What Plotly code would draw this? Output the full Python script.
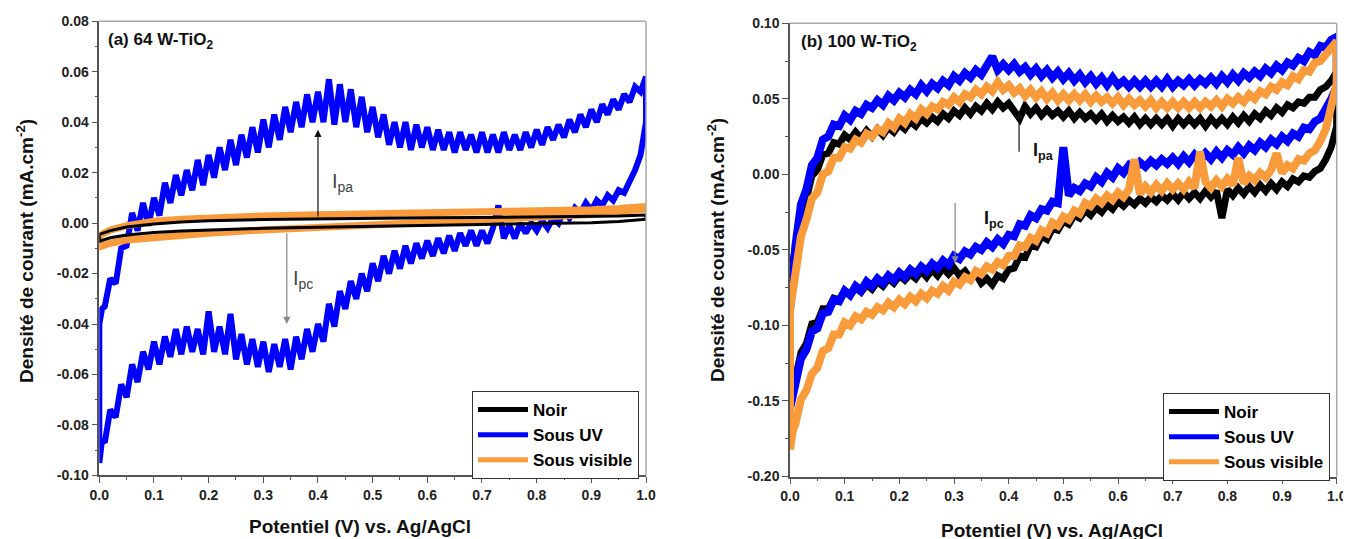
import plotly.graph_objects as go

# ---------------- sampling grids (potential, V vs Ag/AgCl) ----------------
potential = [0.0, 0.005] + [round(0.01 * i, 2) for i in range(1, 101)]
potential_smooth = [0.0, 0.01, 0.02, 0.05, 0.1, 0.15, 0.2, 0.3, 0.4, 0.5,
                    0.6, 0.7, 0.8, 0.9, 0.95, 1.0]

# ---------------- panel (a) 64 W-TiO2 ----------------
a_uv_fwd = [-0.040, -0.034, -0.033, -0.022, -0.024, -0.010, -0.009, 0.004, -0.003, 0.008,
            -0.001, 0.010, 0.003, 0.016, 0.008, 0.019, 0.011, 0.021, 0.013, 0.025,
            0.015, 0.027, 0.018, 0.030, 0.021, 0.033, 0.023, 0.035, 0.026, 0.038,
            0.028, 0.041, 0.030, 0.043, 0.033, 0.046, 0.036, 0.048, 0.038, 0.051,
            0.040, 0.052, 0.040, 0.057, 0.039, 0.055, 0.040, 0.053, 0.038, 0.050,
            0.036, 0.046, 0.034, 0.043, 0.031, 0.040, 0.030, 0.040, 0.029, 0.039,
            0.030, 0.038, 0.029, 0.037, 0.029, 0.036, 0.028, 0.036, 0.029, 0.035,
            0.028, 0.036, 0.028, 0.035, 0.028, 0.036, 0.029, 0.035, 0.029, 0.036,
            0.030, 0.037, 0.031, 0.038, 0.033, 0.039, 0.034, 0.041, 0.036, 0.043,
            0.038, 0.045, 0.040, 0.047, 0.043, 0.049, 0.045, 0.051, 0.048, 0.054,
            0.052, 0.058]
a_uv_rev = [-0.095, -0.086, -0.087, -0.074, -0.077, -0.064, -0.069, -0.056, -0.063, -0.051,
            -0.058, -0.047, -0.056, -0.045, -0.053, -0.042, -0.052, -0.041, -0.051, -0.042,
            -0.052, -0.035, -0.051, -0.041, -0.052, -0.036, -0.054, -0.044, -0.056, -0.046,
            -0.057, -0.047, -0.059, -0.048, -0.057, -0.046, -0.058, -0.045, -0.054, -0.042,
            -0.051, -0.040, -0.047, -0.032, -0.041, -0.027, -0.034, -0.023, -0.030, -0.020,
            -0.027, -0.016, -0.023, -0.013, -0.020, -0.011, -0.018, -0.009, -0.016, -0.008,
            -0.014, -0.007, -0.013, -0.006, -0.012, -0.005, -0.011, -0.004, -0.009, -0.003,
            -0.009, -0.003, -0.008, -0.002, 0.007, -0.006, -0.001, -0.006, 0.000, -0.004,
            0.000, -0.003, 0.001, -0.002, 0.002, 0.000, 0.005, 0.002, 0.006, 0.004,
            0.008, 0.005, 0.009, 0.007, 0.011, 0.009, 0.013, 0.012, 0.017, 0.021,
            0.027, 0.040]
a_dark_fwd = [-0.0045, -0.0037, -0.0030, -0.0016, -0.0004, 0.0004, 0.0009, 0.0014,
              0.0017, 0.0019, 0.0021, 0.0022, 0.0024, 0.0026, 0.0028, 0.0032]
a_dark_rev = [-0.0072, -0.0064, -0.0058, -0.0047, -0.0037, -0.0031, -0.0027, -0.0021,
              -0.0017, -0.0012, -0.0008, -0.0005, -0.0002, 0.0001, 0.0006, 0.0015]
a_vis_fwd = [-0.0050, -0.0038, -0.0028, -0.0010, 0.0007, 0.0015, 0.0021, 0.0028,
             0.0033, 0.0036, 0.0039, 0.0043, 0.0047, 0.0053, 0.0058, 0.0066]
a_vis_rev = [-0.0095, -0.0086, -0.0080, -0.0067, -0.0056, -0.0048, -0.0040, -0.0027,
             -0.0015, -0.0005, 0.0005, 0.0014, 0.0023, 0.0034, 0.0043, 0.0056]

# ---------------- panel (b) 100 W-TiO2 ----------------
b_uv_fwd = [-0.090, -0.060, -0.047, -0.020, -0.010, 0.006, 0.011, 0.023, 0.025, 0.033,
            0.032, 0.039, 0.036, 0.042, 0.040, 0.046, 0.044, 0.049, 0.046, 0.052,
            0.049, 0.054, 0.051, 0.056, 0.053, 0.059, 0.055, 0.060, 0.057, 0.062,
            0.059, 0.065, 0.062, 0.067, 0.064, 0.069, 0.066, 0.072, 0.078, 0.069,
            0.073, 0.069, 0.073, 0.068, 0.071, 0.066, 0.070, 0.065, 0.069, 0.064,
            0.068, 0.063, 0.067, 0.062, 0.066, 0.061, 0.065, 0.060, 0.064, 0.059,
            0.064, 0.059, 0.062, 0.058, 0.062, 0.058, 0.062, 0.058, 0.062, 0.058,
            0.063, 0.058, 0.062, 0.059, 0.063, 0.059, 0.063, 0.060, 0.064, 0.060,
            0.065, 0.061, 0.066, 0.062, 0.067, 0.064, 0.068, 0.065, 0.070, 0.067,
            0.072, 0.069, 0.074, 0.072, 0.077, 0.075, 0.081, 0.079, 0.085, 0.084,
            0.089, 0.091]
b_uv_rev = [-0.155, -0.148, -0.139, -0.122, -0.116, -0.104, -0.102, -0.092, -0.091, -0.083,
            -0.084, -0.077, -0.080, -0.074, -0.077, -0.071, -0.074, -0.069, -0.072, -0.067,
            -0.070, -0.065, -0.068, -0.063, -0.066, -0.061, -0.064, -0.059, -0.062, -0.057,
            -0.060, -0.054, -0.056, -0.051, -0.053, -0.048, -0.050, -0.045, -0.048, -0.043,
            -0.046, -0.040, -0.041, -0.033, -0.034, -0.027, -0.029, -0.023, -0.024, -0.018,
            -0.019, 0.018, -0.014, -0.009, -0.011, -0.006, -0.008, -0.002, -0.005, 0.001,
            -0.002, 0.004, 0.001, 0.006, 0.003, 0.008, 0.005, 0.009, 0.006, 0.010,
            0.007, 0.011, 0.007, 0.012, 0.008, 0.013, 0.009, 0.014, 0.010, 0.015,
            0.011, 0.016, 0.013, 0.018, 0.014, 0.019, 0.016, 0.021, 0.018, 0.023,
            0.020, 0.025, 0.022, 0.027, 0.025, 0.031, 0.030, 0.035, 0.037, 0.043,
            0.050, 0.058]
b_vis_fwd = [-0.090, -0.076, -0.064, -0.041, -0.030, -0.016, -0.012, 0.000, 0.002, 0.011,
             0.011, 0.018, 0.017, 0.023, 0.021, 0.027, 0.025, 0.030, 0.028, 0.034,
             0.031, 0.037, 0.034, 0.040, 0.037, 0.043, 0.040, 0.045, 0.043, 0.048,
             0.046, 0.051, 0.048, 0.053, 0.051, 0.056, 0.053, 0.058, 0.055, 0.061,
             0.056, 0.059, 0.054, 0.057, 0.052, 0.056, 0.051, 0.055, 0.050, 0.054,
             0.049, 0.053, 0.049, 0.053, 0.049, 0.053, 0.048, 0.052, 0.048, 0.051,
             0.047, 0.051, 0.046, 0.050, 0.046, 0.049, 0.045, 0.049, 0.044, 0.048,
             0.044, 0.048, 0.044, 0.048, 0.044, 0.048, 0.044, 0.048, 0.045, 0.049,
             0.045, 0.050, 0.047, 0.051, 0.048, 0.053, 0.050, 0.055, 0.053, 0.058,
             0.056, 0.061, 0.059, 0.065, 0.063, 0.069, 0.068, 0.074, 0.075, 0.080,
             0.083, 0.088]
b_vis_rev = [-0.182, -0.170, -0.165, -0.149, -0.143, -0.132, -0.128, -0.117, -0.115, -0.106,
             -0.106, -0.098, -0.100, -0.094, -0.096, -0.091, -0.093, -0.088, -0.090, -0.085,
             -0.088, -0.083, -0.086, -0.081, -0.084, -0.079, -0.082, -0.077, -0.079, -0.074,
             -0.077, -0.071, -0.073, -0.068, -0.070, -0.064, -0.066, -0.061, -0.063, -0.058,
             -0.060, -0.054, -0.054, -0.047, -0.048, -0.042, -0.044, -0.037, -0.039, -0.032,
             -0.034, -0.028, -0.030, -0.024, -0.026, -0.019, -0.021, -0.016, -0.019, -0.014,
             -0.017, -0.012, -0.015, -0.010, 0.010, -0.013, -0.008, -0.012, -0.007, -0.011,
             -0.006, -0.010, -0.006, -0.010, -0.005, -0.009, 0.015, -0.005, -0.009, -0.004,
             -0.008, -0.003, -0.007, 0.011, -0.006, -0.001, -0.004, 0.001, -0.002, 0.003,
             0.014, 0.001, 0.006, 0.004, 0.010, 0.009, 0.014, 0.016, 0.022, 0.030,
             0.042, 0.060]
b_dark_fwd = [-0.070, -0.056, -0.048, -0.026, -0.016, -0.001, 0.003, 0.013, 0.014, 0.021,
              0.020, 0.026, 0.023, 0.028, 0.024, 0.029, 0.025, 0.030, 0.026, 0.031,
              0.028, 0.033, 0.030, 0.035, 0.032, 0.037, 0.034, 0.038, 0.035, 0.040,
              0.037, 0.042, 0.039, 0.044, 0.040, 0.045, 0.042, 0.047, 0.043, 0.048,
              0.044, 0.047, 0.042, 0.037, 0.045, 0.040, 0.044, 0.039, 0.043, 0.039,
              0.042, 0.038, 0.042, 0.037, 0.041, 0.037, 0.040, 0.036, 0.040, 0.035,
              0.039, 0.035, 0.038, 0.034, 0.038, 0.033, 0.037, 0.033, 0.037, 0.033,
              0.037, 0.032, 0.037, 0.033, 0.037, 0.033, 0.037, 0.032, 0.037, 0.033,
              0.037, 0.033, 0.038, 0.034, 0.039, 0.035, 0.040, 0.037, 0.042, 0.039,
              0.044, 0.041, 0.046, 0.044, 0.048, 0.047, 0.051, 0.051, 0.056, 0.058,
              0.062, 0.068]
b_dark_rev = [-0.152, -0.143, -0.135, -0.118, -0.112, -0.099, -0.098, -0.089, -0.089, -0.082,
              -0.083, -0.077, -0.080, -0.075, -0.078, -0.073, -0.076, -0.071, -0.074, -0.069,
              -0.072, -0.067, -0.070, -0.066, -0.069, -0.064, -0.068, -0.063, -0.067, -0.062,
              -0.066, -0.062, -0.067, -0.064, -0.069, -0.066, -0.072, -0.069, -0.073, -0.067,
              -0.069, -0.063, -0.062, -0.054, -0.055, -0.047, -0.048, -0.041, -0.043, -0.036,
              -0.037, -0.031, -0.033, -0.027, -0.029, -0.024, -0.027, -0.022, -0.025, -0.020,
              -0.023, -0.018, -0.021, -0.017, -0.020, -0.016, -0.019, -0.015, -0.018, -0.014,
              -0.017, -0.013, -0.017, -0.012, -0.016, -0.012, -0.016, -0.011, -0.015, -0.011,
              -0.029, -0.010, -0.014, -0.009, -0.013, -0.008, -0.012, -0.007, -0.011, -0.006,
              -0.010, -0.005, -0.008, -0.003, -0.005, -0.001, -0.002, 0.002, 0.004, 0.010,
              0.018, 0.032]

# ---------------- labels ----------------
series_names = ["Noir", "Sous UV", "Sous visible"]
x_ticks = [0.0, 0.1, 0.2, 0.3, 0.4, 0.5, 0.6, 0.7, 0.8, 0.9, 1.0]
x_ticktext = ["0.0", "0.1", "0.2", "0.3", "0.4", "0.5", "0.6", "0.7", "0.8", "0.9", "1.0"]
ya_ticks = [0.08, 0.06, 0.04, 0.02, 0.0, -0.02, -0.04, -0.06, -0.08, -0.10]
ya_ticktext = ["0.08", "0.06", "0.04", "0.02", "0.00", "-0.02", "-0.04", "-0.06", "-0.08", "-0.10"]
yb_ticks = [0.10, 0.05, 0.0, -0.05, -0.10, -0.15, -0.20]
yb_ticktext = ["0.10", "0.05", "0.00", "-0.05", "-0.10", "-0.15", "-0.20"]

BLACK = "#000000"
BLUE = "#0000FF"
ORANGE = "#F99A3B"
FONT = "Arial, 'Liberation Sans', sans-serif"

W, H, OFF = 1351, 539, 8   # page body margin offset of the plot div


def px_x(X):
    return (X - OFF) / W


def px_y(Y):
    return 1 - (Y - OFF) / H


fig = go.Figure()


def add_loop(xs, fwd, rev, color, width, xa, ya):
    x = list(xs) + list(xs)[::-1] + [xs[0]]
    y = list(fwd) + list(rev)[::-1] + [fwd[0]]
    fig.add_trace(go.Scatter(x=x, y=y, mode="lines",
                             line=dict(color=color, width=width),
                             showlegend=False, hoverinfo="skip",
                             xaxis=xa, yaxis=ya))


# panel (a): blue below, orange, black on top
add_loop(potential, a_uv_fwd, a_uv_rev, BLUE, 6, "x", "y")
add_loop(potential_smooth, a_vis_fwd, a_vis_rev, ORANGE, 7, "x", "y")
add_loop(potential_smooth, a_dark_fwd, a_dark_rev, BLACK, 3, "x", "y")

# panel (b)
add_loop(potential, b_dark_fwd, b_dark_rev, BLACK, 7, "x2", "y2")
add_loop(potential, b_uv_fwd, b_uv_rev, BLUE, 8, "x2", "y2")
add_loop(potential, b_vis_fwd, b_vis_rev, ORANGE, 8, "x2", "y2")

# legend entries
for lg, xa, ya in (("legend", "x", "y"), ("legend2", "x2", "y2")):
    for name, color in zip(series_names, (BLACK, BLUE, ORANGE)):
        fig.add_trace(go.Scatter(x=[None], y=[None], mode="lines", name=name,
                                 line=dict(color=color, width=5),
                                 legend=lg, xaxis=xa, yaxis=ya, showlegend=True))

tickfont = dict(family=FONT, size=14, color="#222", weight="bold")
common = dict(showline=True, linecolor="#555", linewidth=1.5, ticks="outside",
              ticklen=6, tickwidth=1.2, tickcolor="#555", showgrid=False,
              zeroline=False, automargin=False, tickfont=tickfont,
              tickmode="array", fixedrange=True)
legend_style = dict(xanchor="right", yanchor="top", bgcolor="white",
                    bordercolor="#333", borderwidth=1, itemwidth=50,
                    font=dict(family=FONT, size=17, color="#000", weight="bold"),
                    itemclick=False, itemdoubleclick=False)

fig.update_layout(
    width=W, height=H, template="none",
    margin=dict(l=0, r=0, t=0, b=0),
    paper_bgcolor="white", plot_bgcolor="white",
    font=dict(family=FONT, color="#222"),
    xaxis=dict(domain=[px_x(99.3), px_x(646)], range=[0, 1], anchor="y",
               tickvals=x_ticks, ticktext=x_ticktext,
               minor=dict(ticks="outside", ticklen=3, tickcolor="#555",
                          tickmode="linear", tick0=0, dtick=0.05), **common),
    yaxis=dict(domain=[px_y(475.4), px_y(21.2)], range=[-0.10, 0.08], anchor="x",
               tickvals=ya_ticks, ticktext=ya_ticktext,
               minor=dict(ticks="outside", ticklen=3, tickcolor="#555",
                          tickmode="linear", tick0=0, dtick=0.01), **common),
    xaxis2=dict(domain=[px_x(790), px_x(1336.7)], range=[0, 1], anchor="y2",
                tickvals=x_ticks, ticktext=x_ticktext,
                minor=dict(ticks="outside", ticklen=3, tickcolor="#555",
                           tickmode="linear", tick0=0, dtick=0.05), **common),
    yaxis2=dict(domain=[px_y(476.5), px_y(23.3)], range=[-0.20, 0.10], anchor="x2",
                tickvals=yb_ticks, ticktext=yb_ticktext,
                minor=dict(ticks="outside", ticklen=3, tickcolor="#555",
                           tickmode="linear", tick0=0, dtick=0.025), **common),
    legend=dict(x=px_x(639), y=px_y(391), **legend_style),
    legend2=dict(x=px_x(1330), y=px_y(393), **legend_style),
)

# grey frame (top and right edges)
for xa, ya in (("x", "y"), ("x2", "y2")):
    fig.add_shape(type="line", xref=f"{xa} domain", yref=f"{ya} domain",
                  x0=0, x1=1, y0=1, y1=1, line=dict(color="#A8A8A8", width=1.5))
    fig.add_shape(type="line", xref=f"{xa} domain", yref=f"{ya} domain",
                  x0=1, x1=1, y0=0, y1=1, line=dict(color="#A8A8A8", width=1.5))

bold = dict(family=FONT, color="#111", weight="bold")

# panel titles
fig.add_annotation(x=0.012, y=0.072, xref="x", yref="y", xanchor="left", yanchor="middle",
                   text="(a) 64 W-TiO<sub>2</sub>", showarrow=False, font=dict(size=17, **bold))
fig.add_annotation(x=0.017, y=0.0868, xref="x2", yref="y2", xanchor="left", yanchor="middle",
                   text="(b) 100 W-TiO<sub>2</sub>", showarrow=False, font=dict(size=17, **bold))

# axis titles
ytitle = "Densité de courant (mA.cm<sup>-2</sup>)"
xtitle = "Potentiel (V) vs. Ag/AgCl"
for X, Y, txt, ang in ((25, 251, ytitle, -90), (716, 250, ytitle, -90),
                       (360, 526, xtitle, 0), (1052, 530, xtitle, 0)):
    fig.add_annotation(x=px_x(X), y=px_y(Y), xref="paper", yref="paper", text=txt,
                       xanchor="center", yanchor="middle", textangle=ang,
                       showarrow=False, font=dict(size=19, **bold))

# peak current arrows
arrows = [
    ("x", "y", 0.400, 0.037, 0.002, "#111"),
    ("x", "y", 0.343, -0.040, -0.0035, "#888"),
    ("x2", "y2", 0.419, 0.0415, 0.014, "#111"),
    ("x2", "y2", 0.302, -0.059, -0.018, "#888"),
]
for xa, ya, xv, yhead, ytail, col in arrows:
    fig.add_annotation(x=xv, y=yhead, ax=xv, ay=ytail, xref=xa, yref=ya, axref=xa, ayref=ya,
                       text="", showarrow=True, arrowhead=2, arrowsize=1.2, arrowwidth=1.2,
                       arrowcolor=col)

fig.add_annotation(x=0.422, y=0.016, xref="x", yref="y", xanchor="left", yanchor="middle",
                   text="I<sub>pa</sub>", showarrow=False,
                   font=dict(family=FONT, size=20, color="#444"))
fig.add_annotation(x=0.350, y=-0.0225, xref="x", yref="y", xanchor="left", yanchor="middle",
                   text="I<sub>pc</sub>", showarrow=False,
                   font=dict(family=FONT, size=20, color="#444"))
fig.add_annotation(x=0.440, y=0.015, xref="x2", yref="y2", xanchor="left", yanchor="middle",
                   text="I<sub>pa</sub>", showarrow=False, font=dict(size=18, **bold))
fig.add_annotation(x=0.352, y=-0.030, xref="x2", yref="y2", xanchor="left", yanchor="middle",
                   text="I<sub>pc</sub>", showarrow=False, font=dict(size=18, **bold))

fig.write_html("out.html")
